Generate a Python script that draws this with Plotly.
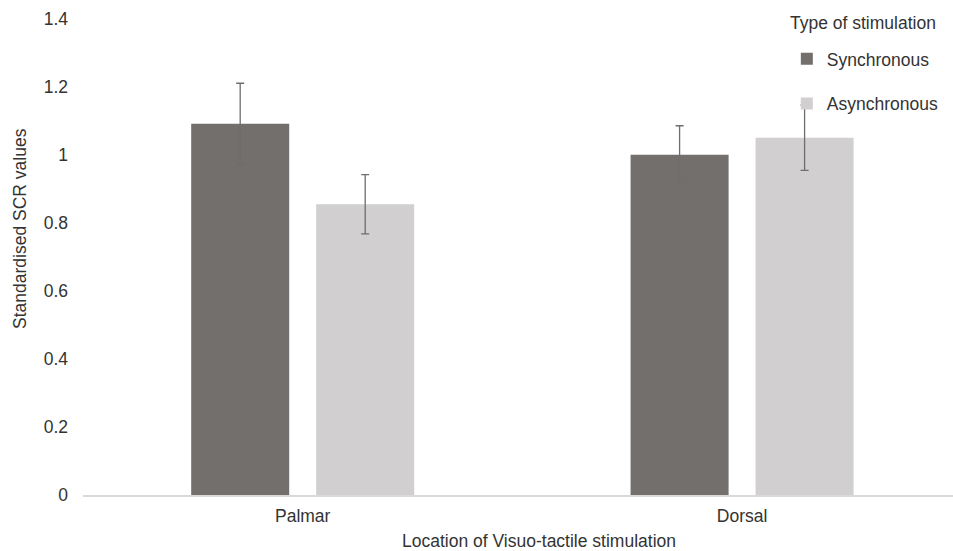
import plotly.graph_objects as go

categories = ["Palmar", "Dorsal"]
series_names = ["Synchronous", "Asynchronous"]
legend_title = "Type of stimulation"
sync_values = [1.092, 1.001]
async_values = [0.855, 1.051]
sync_errors = [0.119, 0.085]
async_errors = [0.087, 0.096]
y_ticks = [0, 0.2, 0.4, 0.6, 0.8, 1.0, 1.2, 1.4]
y_tick_labels = ["0", "0.2", "0.4", "0.6", "0.8", "1", "1.2", "1.4"]

FONT = "Liberation Sans, Arial, Helvetica, sans-serif"
TXT = "#333333"
FS = 17.5

fig = go.Figure()
fig.add_trace(go.Bar(
    x=categories, y=sync_values, name=series_names[0],
    marker=dict(color="#736f6d", line=dict(width=0)),
    error_y=dict(type="data", array=sync_errors, visible=True,
                 color="#6e6e6e", thickness=1.3, width=4),
    legendgroup="a",
))
fig.add_trace(go.Bar(
    x=categories, y=async_values, name=series_names[1],
    marker=dict(color="#d1cfd0", line=dict(width=0)),
    error_y=dict(type="data", array=async_errors, visible=True,
                 color="#6e6e6e", thickness=1.3, width=4),
    legendgroup="b",
))

fig.update_layout(
    width=953, height=551,
    margin=dict(l=83, r=0, t=19, b=56),
    paper_bgcolor="white", plot_bgcolor="white",
    font=dict(family=FONT, size=FS, color=TXT),
    barmode="group", bargap=0.431, bargroupgap=0.216,
    showlegend=True,
    legend=dict(
        font=dict(size=FS, color=TXT),
        x=0.809, xanchor="left", y=0.954, yanchor="top",
        bgcolor="rgba(0,0,0,0)", tracegroupgap=19, traceorder="grouped",
    ),
    xaxis=dict(
        type="category", range=[-0.5, 1.48],
        showgrid=False, zeroline=False,
        showline=True, linecolor="#d9d9d9", linewidth=1.5,
        ticks="", ticklabelstandoff=4,
        tickfont=dict(size=FS, color=TXT),
    ),
    yaxis=dict(
        range=[0, 1.4], tickvals=y_ticks, ticktext=y_tick_labels,
        showgrid=False, zeroline=False, showline=False,
        ticks="", ticklabelstandoff=14,
        tickfont=dict(size=FS, color=TXT),
    ),
    annotations=[
        dict(text=legend_title, xref="paper", yref="paper",
             x=0.810, y=0.9916, xanchor="left", yanchor="middle", showarrow=False,
             font=dict(size=FS, color=TXT)),
        dict(text="Location of Visuo-tactile stimulation", xref="paper", yref="paper",
             x=0.524, y=-0.0966, xanchor="center", yanchor="middle", showarrow=False,
             font=dict(size=FS, color=TXT)),
        dict(text="Standardised SCR values", xref="paper", yref="paper",
             x=-0.0724, y=0.559, xanchor="center", yanchor="middle", showarrow=False,
             textangle=-90, font=dict(size=FS, color=TXT)),
    ],
)

fig.write_html("out.html")
